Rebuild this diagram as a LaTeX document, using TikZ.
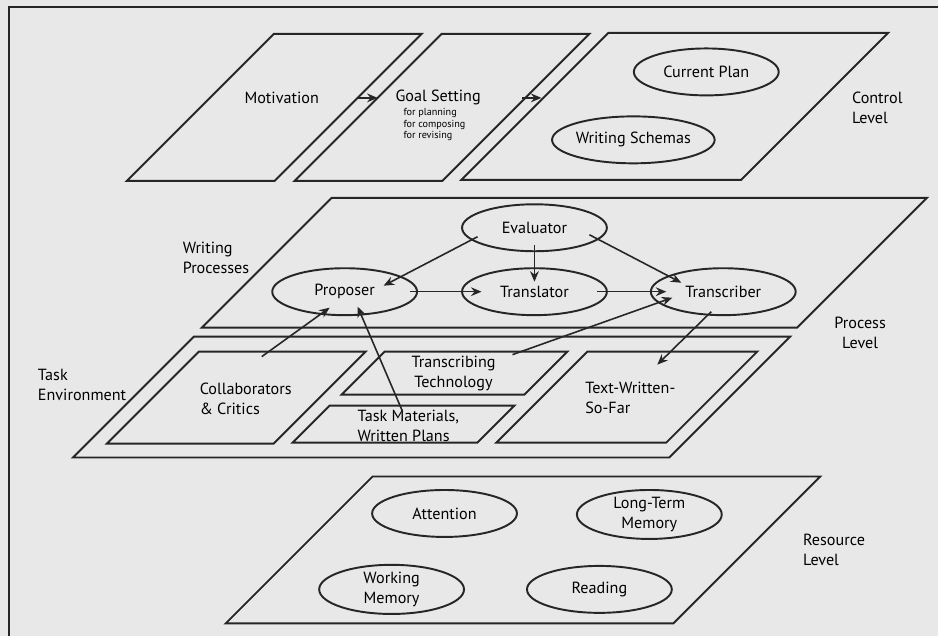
\documentclass[tikz,border=0pt]{standalone}
\usepackage{fontspec}
\setmainfont{PT Sans}
\usepackage{tikz}
\usetikzlibrary{shapes.geometric,arrows.meta,calc}

\begin{document}
\begin{tikzpicture}[x=0.02cm,y=-0.02cm,line width=1.1pt,draw=black!85,
  font=\fontsize{9.2}{11.4}\selectfont,
  proc/.style={draw,ellipse,minimum width=2.9cm,minimum height=0.94cm,inner sep=0pt,align=center},
  lbl/.style={align=left,anchor=west,inner sep=0pt},
  tip/.style={-{Stealth[length=6pt,width=5pt,inset=2pt]},line width=0.9pt}]
\fill[black!9] (0,0) rectangle (939,637);
\draw (9,637) -- (9,7) -- (939,7);
\foreach \x/\y/\w/\h in {127/181/148/147,295/181/148/147,462/180/280/147,202/328/596/130,73/458/597/121,
  107/444/167/92,293/443/185/37,342/395/183/43,497/443/170/91,226/624/448/147}
  \draw (\x,\y) -- ++(\w,0) -- ++(\h,-\h) -- ++(-\w,0) -- cycle;
\node (motiv) at (282,98) {Motivation};
\node[lbl] (goal) at (395,98) {Goal Setting};
\node[lbl,font=\fontsize{5.8}{6.6}\selectfont] (goalsub) at (403,125) {for planning\\for composing\\for revising};
\coordinate (ctrlin) at (542,98);
\node[proc] (plan) at (707,72) {Current Plan};
\node[proc] (schemas) at (634,140) {Writing Schemas};
\node[lbl] (ctrl) at (852,108) {Control\\Level};
\node[lbl] (wproc) at (182,258) {Writing\\Processes};
\node[proc] (eval) at (535,228) {Evaluator};
\node[proc] (prop) at (345,292) {Proposer};
\node[proc] (transl) at (535,292) {Translator};
\node[proc] (transc) at (724,292) {Transcriber};
\node[align=center] (proclvl) at (861,333) {Process\\Level};
\node[lbl] (taskenv) at (37,385) {Task\\Environment};
\node[lbl] (collab) at (199,399) {Collaborators\\\& Critics};
\node[align=center] (tech) at (454,374) {Transcribing\\Technology};
\node[lbl] (taskmat) at (357,426) {Task Materials,\\Written Plans};
\node[lbl] (twsf) at (585,398) {Text-Written-\\So-Far};
\node[proc] (attn) at (445,514) {Attention};
\node[proc] (ltm) at (650,515) {Long-Term\\Memory};
\node[proc] (wm) at (392,590) {Working\\Memory};
\node[proc] (read) at (600,590) {Reading};
\node[lbl] (reslvl) at (803,550) {Resource\\Level};
\draw[tip] ($(motiv)+(75,0)$) -- ($(goal.west)+(-17,0)$);
\draw[tip] ($(goal.west)+(128,0)$) -- (ctrlin);
\draw[tip] ($(eval)+(-57,9)$) -- ($(prop)+(39,-6)$);
\draw[tip] ($(eval)+(0,17)$) -- ($(transl)+(0,-10)$);
\draw[tip] ($(eval)+(55,7)$) -- ($(transc)+(-42,-9)$);
\draw[tip] ($(prop)+(65,0)$) -- ($(transl)+(-53,0)$);
\draw[tip] ($(transl)+(63,0)$) -- ($(transc)+(-57,0)$);
\draw[tip] ($(tech)+(59,-19)$) -- ($(transc)+(-51,6)$);
\draw[tip] ($(transc)+(-12,20)$) -- ($(twsf.west)+(73,-33)$);
\draw[tip] ($(collab.west)+(63,-42)$) -- ($(prop)+(-15,16)$);
\draw[tip] ($(taskmat.west)+(46,-14)$) -- ($(prop)+(13,15)$);
\end{tikzpicture}
\end{document}
